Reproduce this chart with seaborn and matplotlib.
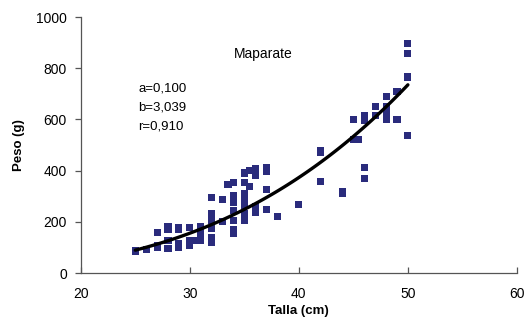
import numpy as np
import pandas as pd
import matplotlib
matplotlib.use("Agg")
import matplotlib.pyplot as plt
import seaborn as sns

talla = [25, 26, 27, 27, 27, 28, 28, 28, 28, 29, 29, 29, 29, 30, 30, 30, 30.5,
         31, 31, 31, 32, 32, 32, 32, 32, 32, 33, 33, 33.5, 34, 34, 34, 34, 34, 34, 34,
         35, 35, 35, 35, 35, 35, 35, 35.5, 35.5, 36, 36, 36, 36, 37, 37, 37, 37, 38,
         40, 42, 42, 42, 44, 44, 45, 45, 45.5, 46, 46, 46, 46, 47, 47,
         48, 48, 48, 48, 48, 49, 49, 50, 50, 50, 50]
peso = [86, 91, 160, 108, 101, 180, 169, 128, 95, 177, 169, 117, 99, 177, 128, 108, 128,
        180, 154, 128, 294, 232, 206, 173, 138, 121, 288, 202, 346, 355, 303, 277, 245, 206, 169, 156,
        391, 353, 310, 286, 264, 232, 206, 339, 401, 408, 382, 258, 238, 414, 398, 326, 249, 221,
        268, 479, 473, 359, 319, 312, 599, 521, 521, 616, 596, 414, 368, 651, 616,
        690, 651, 635, 616, 599, 711, 599, 898, 859, 766, 538]
params = ["a=0,100", "b=3,039", "r=0,910"]

fit_b = 3.039
fit_c = 0.00505
fit_x = np.linspace(25, 50, 100)
fit_y = fit_c * fit_x ** fit_b

sns.set_theme(style="white")
plt.rcParams['font.family'] = ['Liberation Sans', 'DejaVu Sans']
plt.rcParams['text.color'] = 'black'
plt.rcParams['axes.labelcolor'] = 'black'
plt.rcParams['xtick.color'] = 'black'
plt.rcParams['ytick.color'] = 'black'

fig = plt.figure(figsize=(5.28, 3.22), dpi=100)
ax = fig.add_axes([0.153, 0.152, 0.826, 0.795])

df = pd.DataFrame({"Talla": talla, "Peso": peso})
sns.scatterplot(data=df, x="Talla", y="Peso", marker="s", s=26, color="#2A2B7C",
                edgecolor="none", ax=ax, zorder=2)
sns.lineplot(x=fit_x, y=fit_y, color="black", linewidth=2.4, ax=ax, zorder=3)

ax.set_xlim(20, 60)
ax.set_ylim(0, 1000)
ax.set_xticks([20, 30, 40, 50, 60])
ax.set_yticks([0, 200, 400, 600, 800, 1000])
for side in ["top", "right"]:
    ax.spines[side].set_visible(False)
for side in ["left", "bottom"]:
    ax.spines[side].set_color("#555555")
    ax.spines[side].set_linewidth(0.9)
ax.tick_params(axis="y", direction="out", length=4, width=0.9, color="#555555",
               labelsize=10, pad=6, left=True)
ax.tick_params(axis="x", direction="in", length=4, width=0.9, color="#555555",
               labelsize=10, pad=10, bottom=True)
ax.set_xlabel("Talla (cm)", fontsize=9.5, fontweight="bold", labelpad=3)
ax.set_ylabel("Peso (g)", fontsize=9.5, fontweight="bold", labelpad=8)

ax.text(34.0, 854, "Maparate", fontsize=10, va="center")
for lbl, yv in zip(params, [721, 647, 573]):
    ax.text(25.3, yv, lbl, fontsize=9.5, va="center")

fig.savefig("out.png", dpi=100)
